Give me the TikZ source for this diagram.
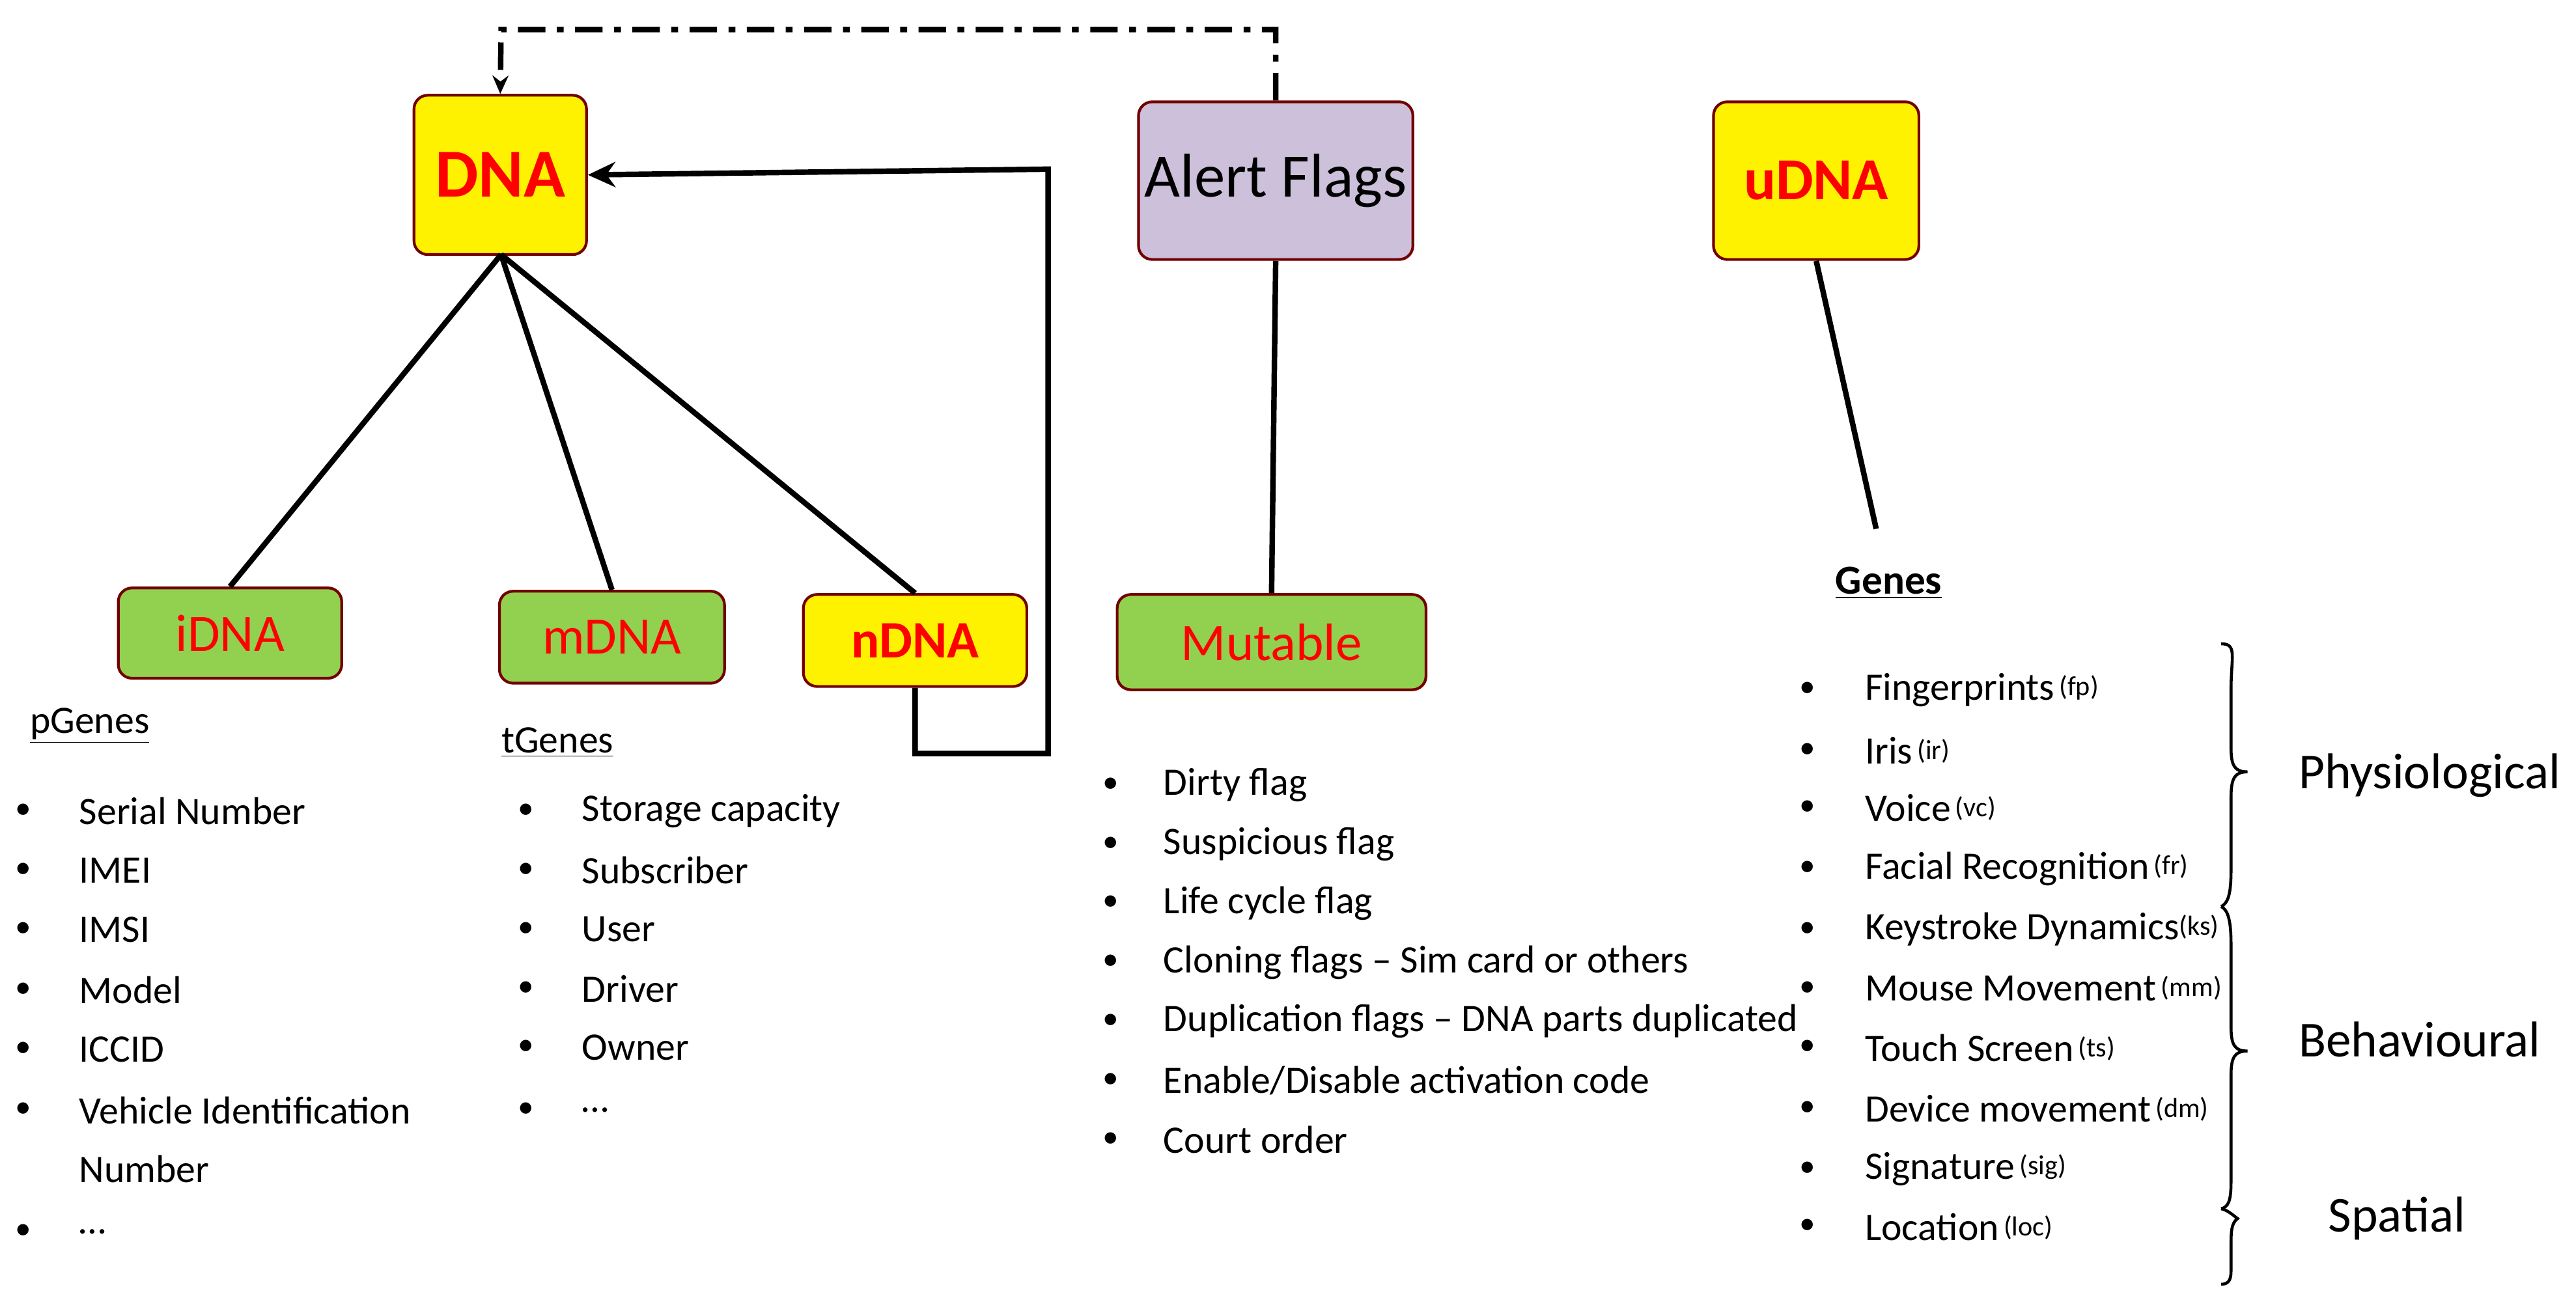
\documentclass[tikz,border=0pt]{standalone}
\usepackage{fontspec}
\setmainfont{Carlito}
\usetikzlibrary{decorations.pathreplacing,arrows.meta}
\begin{document}
\begin{tikzpicture}[x=0.02523cm,y=-0.02523cm,
 box/.style={draw=red!45!black,line width=1.2pt,rounded corners=6pt,inner sep=0pt},
 yel/.style={box,fill=yellow},
 grn/.style={box,fill={rgb,255:red,146;green,208;blue,80}},
 lav/.style={box,fill={rgb,255:red,204;green,192;blue,218}},
 conn/.style={line width=2.4pt},
 it/.style={anchor=west,inner sep=0pt,font=\fontsize{17}{20}\selectfont},
 bul/.style={anchor=center,inner sep=0pt,font=\fontsize{14}{16}\selectfont},
 hd/.style={anchor=west,inner sep=0pt,font=\fontsize{17}{20}\selectfont}]
\useasboundingbox (0,0) rectangle (1568,797);
% boxes
\node[yel,minimum width=105*0.02523cm,minimum height=97*0.02523cm] (dna) at (304.5,106.5) {\textcolor{red}{\fontsize{30}{32}\selectfont\bfseries DNA}};
\node[lav,minimum width=167*0.02523cm,minimum height=96*0.02523cm] (af) at (776.5,110) {\fontsize{27}{30}\selectfont Alert Flags};
\node[yel,minimum width=125*0.02523cm,minimum height=96*0.02523cm] (udna) at (1105.5,110) {\textcolor{red}{\fontsize{26}{30}\selectfont\bfseries uDNA}};
\node[grn,minimum width=136*0.02523cm,minimum height=55*0.02523cm] (idna) at (140,385.5) {\textcolor{red}{\fontsize{23}{26}\selectfont iDNA}};
\node[grn,minimum width=137*0.02523cm,minimum height=56*0.02523cm] (mdna) at (372.5,388) {\textcolor{red}{\fontsize{23}{26}\selectfont mDNA}};
\node[yel,minimum width=136*0.02523cm,minimum height=56*0.02523cm] (ndna) at (557,390) {\textcolor{red}{\fontsize{23}{26}\selectfont\bfseries nDNA}};
\node[grn,minimum width=188*0.02523cm,minimum height=58*0.02523cm] (mut) at (774,391) {\textcolor{red}{\fontsize{23}{26}\selectfont Mutable}};
% connectors
\coordinate (dnab) at (305,155);
\draw[conn] (dnab) -- (idna.north);
\draw[conn] (dnab) -- (mdna.north);
\draw[conn] (dnab) -- (ndna.north);
\draw[conn,-{Stealth[length=12pt,width=11pt]}] (ndna.south) -- ++(0,40) -| (638,103) -- (dna.east);
\coordinate (top) at (305,18);
\draw[line width=2.4pt,dash pattern=on 12pt off 5pt on 3pt off 5pt,-{Stealth[length=8pt,width=7pt]}] (af.north) |- (top) -- (dna.north);
\draw[conn] (af.south) -- (mut.north);
\coordinate (gend) at (1142,322);
\draw[conn] (udna.south) -- (gend);
% pGenes
\node[hd] (pg) at (18,442) {\underline{pGenes}};
\foreach \t/\y in {Serial Number/494,IMEI/530,IMSI/566,Model/603,ICCID/639,Vehicle Identification/676}{
 \node[bul] at (14,\y) {\textbullet}; \node[it] at (48,\y) {\t};}
\node[it] at (48,712) {Number};
\node[bul] at (14,750) {\textbullet}; \node[it] at (48,750) {\dots};
% tGenes
\node[hd] (tg) at (305,452) {\underline{tGenes}};
\foreach \t/\y in {Storage capacity/494,Subscriber/530,User/566,Driver/602,Owner/638,\dots/676}{
 \node[bul] at (320,\y) {\textbullet}; \node[it] at (354,\y) {\t};}
% flags
\foreach \t/\y in {Dirty flag/478,Suspicious flag/514,Life cycle flag/550,Cloning flags -- Sim card or others/586,Duplication flags -- DNA parts duplicated/622,{Enable/Disable activation code}/658,Court order/694}{
 \node[bul] at (676,\y) {\textbullet}; \node[it] at (708,\y) {\t};}
% genes
\node[hd,font=\fontsize{18}{20}\selectfont\bfseries] (gn) at (1117,355) {\underline{Genes}};
\foreach \t/\s/\y in {Fingerprints/{\,(fp)}/420,Iris/{\,(ir)}/457,Voice/{\,(vc)}/492,Facial Recognition/{\,(fr)}/529,Keystroke Dynamics/(ks)/566,Mouse Movement/{\,(mm)}/602,Touch Screen/{\,(ts)}/638,Device movement/{\,(dm)}/675,Signature/{\,(sig)}/712,Location/{\,(loc)}/747}{
 \node[bul] at (1100,\y) {\textbullet}; \node[it] at (1135,\y) {\t{\fontsize{12}{14}\selectfont\raisebox{2pt}{\s}}};}
% braces
\draw[line width=1.3pt] (1352,392) .. controls (1362,392) and (1358,400) .. (1358,420) -- (1358,455) .. controls (1358,466) and (1360,470) .. (1368,470) .. controls (1360,470) and (1358,474) .. (1358,486) -- (1358,530) .. controls (1358,545) and (1356,550) .. (1352,552);
\draw[line width=1.3pt] (1352,552) .. controls (1356,554) and (1358,560) .. (1358,575) -- (1358,625) .. controls (1358,636) and (1360,640) .. (1368,640) .. controls (1360,640) and (1358,644) .. (1358,655) -- (1358,720) .. controls (1358,732) and (1356,735) .. (1352,736);
\draw[line width=1.3pt] (1352,736) .. controls (1356,737) and (1358,739) .. (1362,742) .. controls (1358,745) and (1358,750) .. (1358,760) -- (1358,774) .. controls (1358,780) and (1356,782) .. (1352,782);
\node[anchor=west,inner sep=0pt,font=\fontsize{22}{26}\selectfont] (ph) at (1399,472) {Physiological};
\node[anchor=west,inner sep=0pt,font=\fontsize{22}{26}\selectfont] (bh) at (1399,633) {Behavioural};
\node[anchor=west,inner sep=0pt,font=\fontsize{22}{26}\selectfont] (sp) at (1417,742) {Spatial};
\end{tikzpicture}
\end{document}
